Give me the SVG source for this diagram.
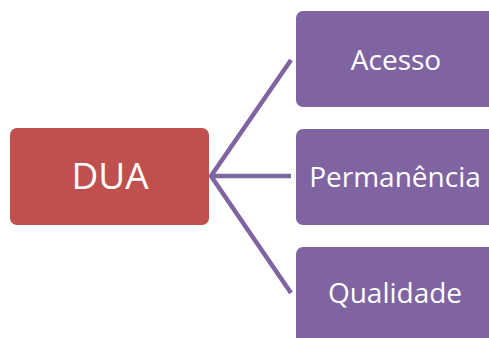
<svg xmlns="http://www.w3.org/2000/svg" width="489" height="338" viewBox="0 0 489 338">
<style>
.p{fill:#8064A2}
.t{fill:#fff;font-family:"Open Sans",sans-serif;font-size:28px;text-anchor:middle}
.c{stroke:#8064A2;stroke-width:4.5;fill:none;stroke-linecap:butt}
</style>
<rect width="489" height="338" fill="#fff"/>
<g id="connectors">
<path class="c" d="M291,60 L211,176 L291,293 M211,176 L291,176"/>
</g>
<g id="dua">
<rect x="10" y="128" width="199" height="97" rx="7" fill="#C0504D"/>
<text class="t" x="110" y="189" style="font-size:37px">DUA</text>
</g>
<g id="acesso">
<rect class="p" x="296" y="11" width="210" height="96" rx="7"/>
<text class="t" x="396" y="70">Acesso</text>
</g>
<g id="permanencia">
<rect class="p" x="296" y="129" width="210" height="96" rx="7"/>
<text class="t" x="395" y="187">Permanência</text>
</g>
<g id="qualidade">
<rect class="p" x="296" y="247" width="210" height="110" rx="7"/>
<text class="t" x="395" y="303">Qualidade</text>
</g>
</svg>
